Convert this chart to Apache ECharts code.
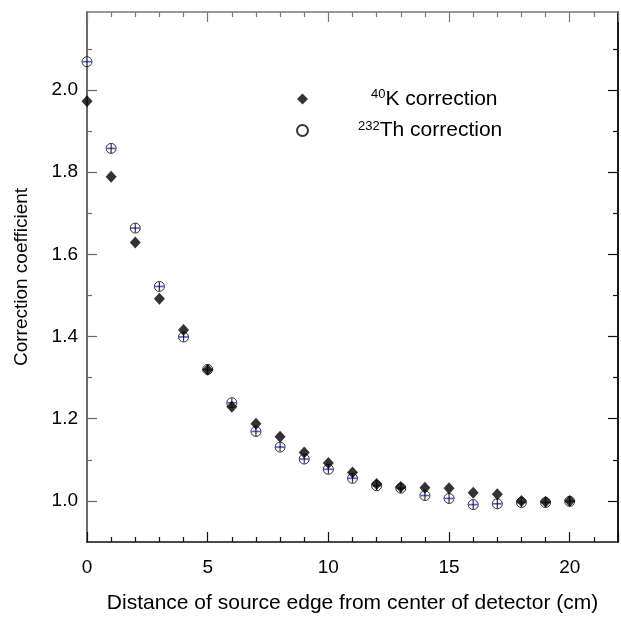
<!DOCTYPE html>
<html>
<head>
<meta charset="utf-8">
<script src="https://cdn.jsdelivr.net/npm/echarts@6/dist/echarts.min.js"></script>
<style>html,body{margin:0;padding:0;background:#fff;}#c{width:621px;height:619px;}</style>
</head>
<body>
<div id="c"></div>
<script>
var distances = [0,1,2,3,4,5,6,7,8,9,10,11,12,13,14,15,16,17,18,19,20];
var kCorrection = [1.973,1.789,1.629,1.492,1.416,1.319,1.229,1.188,1.156,1.118,1.092,1.069,1.041,1.034,1.032,1.031,1.020,1.016,1.000,0.998,1.000];
var thCorrection = [2.069,1.858,1.664,1.522,1.399,1.320,1.239,1.169,1.131,1.102,1.077,1.055,1.037,1.031,1.013,1.006,0.991,0.993,0.996,0.996,0.999];
var yMajorTicks = [1.0,1.2,1.4,1.6,1.8,2.0];
var yMinorTicks = [1.1,1.3,1.5,1.7,1.9,2.1];
var xTickInterval = 5;

function pairs(xs, ys){ return xs.map(function(x,i){ return [x, ys[i]]; }); }

var FONT = "'Liberation Sans', Arial, sans-serif";
var chart = echarts.init(document.getElementById('c'), null, {renderer:'canvas'});

function xAx(pos, showLabel, color){
  return {
    type:'value', position:pos, min:0, max:22, interval:xTickInterval,
    name: showLabel ? 'Distance of source edge from center of detector (cm)' : '',
    nameLocation:'middle', nameGap:51,
    nameTextStyle:{fontFamily:FONT, fontSize:21, color:'#000'},
    axisLine:{show:true, onZero:false, lineStyle:{color:color, width:1.6}},
    axisTick:{show:true, inside:true, length:10, lineStyle:{color:color, width:1.2}},
    minorTick:{show:true, splitNumber:5, length:5, lineStyle:{color:color, width:1.2}},
    axisLabel:{show:showLabel, showMaxLabel:false, margin:16, fontFamily:FONT, fontSize:19, color:'#000'},
    splitLine:{show:false}, minorSplitLine:{show:false}
  };
}
function yAx(pos, ticks, len, showLabel, color){
  return {
    type:'value', position:pos, min:0.9, max:2.19,
    name: showLabel ? 'Correction coefficient' : '',
    nameLocation:'middle', nameGap:56,
    nameTextStyle:{fontFamily:FONT, fontSize:19, color:'#000'},
    axisLine:{show:true, onZero:false, lineStyle:{color:color, width:1.6}},
    axisTick:{show:true, inside:true, length:len, customValues:ticks, lineStyle:{color:color, width:1.2}},
    axisLabel:{show:showLabel, margin:9, customValues:yMajorTicks, fontFamily:FONT, fontSize:19, color:'#000',
      formatter:function(v){ return v.toFixed(1); }},
    splitLine:{show:false}
  };
}

var option = {
  animation:false,
  backgroundColor:'#fff',
  grid:{left:87, right:3, top:12, bottom:77, outerBoundsMode:'none'},
  legend:{
    orient:'vertical', left:291, top:83, itemWidth:11, itemHeight:11, itemGap:10,
    data:[{name:'K', icon:'diamond'},{name:'Th', icon:'circle'}],
    formatter:function(n){ return n==='K' ? '{p1|}{sup|40}{t|K correction}' : '{p2|}{sup|232}{t|Th correction}'; },
    textStyle:{fontFamily:FONT, color:'#000', rich:{
      p1:{width:58}, p2:{width:45},
      sup:{fontFamily:FONT, fontSize:13, color:'#000', padding:[0,0,9,0]},
      t:{fontFamily:FONT, fontSize:21, color:'#000'}
    }}
  },
  xAxis:[ xAx('bottom', true, '#111'), xAx('top', false, '#777') ],
  yAxis:[ yAx('left', yMajorTicks, 10, true, '#666'), yAx('left', yMinorTicks, 5, false, '#666'),
          yAx('right', yMajorTicks, 10, false, '#111'), yAx('right', yMinorTicks, 5, false, '#111') ],
  series:[
    {name:'Th', type:'scatter', data:pairs(distances, thCorrection), symbol:'circle', symbolSize:10,
     itemStyle:{color:'#fff', borderColor:'#000', borderWidth:1}, z:2},
    {name:'ThErrH', type:'scatter', data:pairs(distances, thCorrection), symbol:'rect', symbolSize:[9,1.6],
     itemStyle:{color:'#2233cc'}, z:3, silent:true},
    {name:'ThErrV', type:'scatter', data:pairs(distances, thCorrection), symbol:'rect', symbolSize:[1.2,9],
     itemStyle:{color:'#000'}, z:3, silent:true},
    {name:'K', type:'scatter', data:pairs(distances, kCorrection), symbol:'diamond', symbolSize:[11,12],
     itemStyle:{color:'#000'}, z:4}
  ]
};
chart.setOption(option);
</script>
</body>
</html>
